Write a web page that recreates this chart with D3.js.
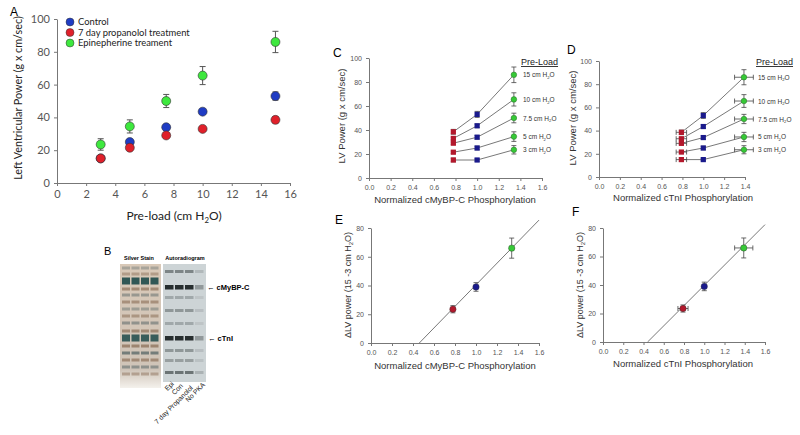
<!DOCTYPE html>
<html><head><meta charset="utf-8">
<script src="https://cdn.jsdelivr.net/npm/d3@7"></script>
<style>body{margin:0;background:#fff} svg{display:block}</style>
</head><body><svg id="c" width="800" height="435"></svg>
<script>
// ---------------- DATA ----------------
const preloads = [3, 5, 7.5, 10, 15];
const preloadLabels = ["3", "5", "7.5", "10", "15"];
const controlPower = [15, 25, 34, 43.5, 53];
const controlErr = [1, 1.5, 1.5, 1.5, 2.5];
const propPower = [15, 21.5, 29, 33, 38.5];
const propErr = [1.5, 1, 1, 1, 2];
const epiPower = [23.5, 34.5, 50, 65.5, 86];
const epiErr = [3.5, 4, 4, 5.5, 6.5];
const legendNames = ["Control", "7 day propanolol treatment", "Epinepherine treament"];

// order: control, propranolol, epinephrine
const mybpcPhos = [1.0, 0.78, 1.34];
const mybpcPhosErr = [0, 0.02, 0.02];
const tniPhos = [1.0, 0.79, 1.39];
const tniPhosErr = [0, 0.05, 0.09];
const deltaPower = [39, 23.5, 66];
const deltaErr = [3, 2.5, 7];
const fitMybpc = [0.46, 75];   // x-intercept, slope
const fitTni = [0.44, 71];

const xTicksA = [0, 2, 4, 6, 8, 10, 12, 14, 16];
const yTicksA = [0, 20, 40, 60, 80, 100];
const phosTicks = [0, 0.2, 0.4, 0.6, 0.8, 1.0, 1.2, 1.4, 1.6];
const phosTicksD = [0, 0.2, 0.4, 0.6, 0.8, 1.0, 1.2, 1.4];
const powerTicks = [0, 20, 40, 60, 80, 100];
const deltaTicks = [0, 20, 40, 60, 80];

const laneNames = ["Epi", "Con", "7 day Propanolol", "No PKA"];
const autoBands = [[272, 0.45], [287, 0.95], [298, 0.25], [311, 0.35], [324, 0.25], [338, 0.95], [351, 0.35], [361, 0.3], [373, 0.55]];
const laneStrength = [1, 1, 1, 0.35];
const silverBands = [[268, 0.35], [274, 0.4], [281, 0.9], [289, 0.55], [295, 0.45], [302, 0.5], [309, 0.4], [316, 0.45], [323, 0.5], [331, 0.55], [338, 0.85], [346, 0.6], [353, 0.7], [360, 0.55], [367, 0.5], [374, 0.4]];

// ---------------- DRAW ----------------
const svg = d3.select("#c");
const ARIAL = "Liberation Sans, Arial, sans-serif";
const CAL = "Lato, sans-serif";
const col = {
  A: ["#1f3cc4", "#e0202a", "#3ee83e"],
  C: ["#1a1a8c", "#b3182c", "#36c936"]
};

function axes(g, x, y, xt, yt, fs, fmtX, font, color, tick) {
  const ax = g.append("g").attr("transform", `translate(0,${y.range()[0]})`)
    .call(d3.axisBottom(x).tickValues(xt).tickFormat(fmtX).tickSize(tick).tickSizeOuter(0).tickPadding(4));
  const ay = g.append("g").attr("transform", `translate(${x.range()[0]},0)`)
    .call(d3.axisLeft(y).tickValues(yt).tickSize(tick).tickSizeOuter(0).tickPadding(4));
  [ax, ay].forEach(a => {
    a.select(".domain").attr("stroke", "#777").attr("stroke-width", 1);
    a.selectAll(".tick line").attr("stroke", "#777");
    a.selectAll("text").attr("font-size", fs).attr("font-family", font).attr("fill", color);
  });
  return [ax, ay];
}

function h2o(sel, pre, post, fs) {
  sel.append("tspan").text(pre + "H");
  sel.append("tspan").attr("font-size", fs * 0.65).attr("dy", fs * 0.25).text("2");
  sel.append("tspan").attr("dy", -fs * 0.25).text("O" + post);
}

// ===== Panel A =====
const gA = svg.append("g");
const xA = d3.scaleLinear([0, 16], [57, 290]);
const yA = d3.scaleLinear([0, 100], [183, 19]);
axes(gA, xA, yA, xTicksA, yTicksA, 11, d3.format("d"), CAL, "#555", 3);
gA.append("text").attr("x", 10).attr("y", 16).attr("font-family", ARIAL).attr("font-size", 12).text("A");
gA.append("text").attr("transform", "translate(22,98) rotate(-90)").attr("text-anchor", "middle")
  .attr("font-family", CAL).attr("font-size", 10.8).attr("fill", "#222").text("Left Ventricular Power (g x cm/sec)");
const tA = gA.append("text").attr("x", 174).attr("y", 220).attr("text-anchor", "middle")
  .attr("font-family", CAL).attr("font-size", 12).attr("fill", "#222");
h2o(tA, "Pre-load (cm ", ")", 12);

const seriesA = [[controlPower, controlErr], [propPower, propErr], [epiPower, epiErr]];
seriesA.forEach(([vals, errs], s) => {
  const g = gA.append("g");
  preloads.forEach((p, i) => {
    const cx = xA(p), lo = yA(vals[i] - errs[i]), hi = yA(vals[i] + errs[i]);
    g.append("line").attr("x1", cx).attr("x2", cx).attr("y1", lo).attr("y2", hi).attr("stroke", "#555");
    [lo, hi].forEach(yy => g.append("line").attr("x1", cx - 3).attr("x2", cx + 3).attr("y1", yy).attr("y2", yy).attr("stroke", "#555"));
    g.append("circle").attr("cx", cx).attr("cy", yA(vals[i])).attr("r", 4.5)
      .attr("fill", col.A[s]).attr("stroke", "#333").attr("stroke-width", 0.6);
  });
});
legendNames.forEach((n, i) => {
  gA.append("circle").attr("cx", 70).attr("cy", 22 + i * 10.5).attr("r", 4).attr("fill", col.A[i]).attr("stroke", "#333").attr("stroke-width", 0.5);
  gA.append("text").attr("x", 78).attr("y", 22 + i * 10.5).attr("dy", "0.35em").attr("font-family", CAL).attr("font-size", 9.4).attr("fill", "#222").text(n);
});

// ===== Panels C & D =====
function lvPanel(x, y, phos, phosErr, ticks, letter, lx, ly, ylx, ylabelY, xlabel, xlx, xly, legX, hErr) {
  const g = svg.append("g");
  axes(g, x, y, ticks, powerTicks, 7, d3.format(".1f"), ARIAL, "#555", 3);
  g.append("text").attr("x", lx).attr("y", ly).attr("font-family", ARIAL).attr("font-size", 12).text(letter);
  g.append("text").attr("transform", `translate(${ylx},${ylabelY}) rotate(-90)`).attr("text-anchor", "middle")
    .attr("font-family", ARIAL).attr("font-size", 9.5).attr("fill", "#333").text("LV Power (g x cm/sec)");
  g.append("text").attr("x", xlx).attr("y", xly).attr("text-anchor", "middle")
    .attr("font-family", ARIAL).attr("font-size", 9.5).attr("fill", "#333").text(xlabel);
  const series = [controlPower, propPower, epiPower];
  const errs = [controlErr, propErr, epiErr];
  preloads.forEach((p, i) => {
    const pts = [1, 0, 2].map(s => [x(phos[s]), y(series[s][i])]);
    g.append("path").attr("d", d3.line()(pts)).attr("fill", "none").attr("stroke", "#555").attr("stroke-width", 0.8);
  });
  [1, 0, 2].forEach(s => {
    preloads.forEach((p, i) => {
      const cx = x(phos[s]), cy = y(series[s][i]);
      const lo = y(series[s][i] - errs[s][i]), hi = y(series[s][i] + errs[s][i]);
      g.append("line").attr("x1", cx).attr("x2", cx).attr("y1", lo).attr("y2", hi).attr("stroke", "#444").attr("stroke-width", 0.8);
      [lo, hi].forEach(yy => g.append("line").attr("x1", cx - 2.5).attr("x2", cx + 2.5).attr("y1", yy).attr("y2", yy).attr("stroke", "#444").attr("stroke-width", 0.8));
      if (phosErr[s] > 0) {
        const l = x(phos[s] - phosErr[s]), r = x(phos[s] + phosErr[s]);
        g.append("line").attr("x1", l).attr("x2", r).attr("y1", cy).attr("y2", cy).attr("stroke", "#444").attr("stroke-width", 0.8);
        if (hErr) [l, r].forEach(xx => g.append("line").attr("x1", xx).attr("x2", xx).attr("y1", cy - 2.5).attr("y2", cy + 2.5).attr("stroke", "#444").attr("stroke-width", 0.8));
      }
      if (s === 2) g.append("circle").attr("cx", cx).attr("cy", cy).attr("r", 2.8).attr("fill", col.C[s]).attr("stroke", "#2a6e2a").attr("stroke-width", 0.5);
      else g.append("rect").attr("x", cx - 2.6).attr("y", cy - 2.6).attr("width", 5.2).attr("height", 5.2).attr("fill", col.C[s]);
    });
  });
  // Pre-load legend
  g.append("text").attr("x", legX).attr("y", 65).attr("font-family", ARIAL).attr("font-size", 9).attr("fill", "#222")
    .attr("text-decoration", "underline").text("Pre-Load");
  preloads.forEach((p, i) => {
    const t = g.append("text").attr("x", legX + 2).attr("y", y(epiPower[i]) + 2.5)
      .attr("font-family", ARIAL).attr("font-size", 6.5).attr("fill", "#333");
    h2o(t, preloadLabels[i] + " cm ", "", 6.5);
  });
}
lvPanel(d3.scaleLinear([0, 1.6], [369, 542]), d3.scaleLinear([0, 100], [178, 58]), mybpcPhos, mybpcPhosErr, phosTicks,
  "C", 333, 57, 345, 116, "Normalized cMyBP-C Phosphorylation", 455, 203, 521, false);
lvPanel(d3.scaleLinear([0, 1.4], [599, 745]), d3.scaleLinear([0, 100], [177, 61]), tniPhos, tniPhosErr, phosTicksD,
  "D", 567, 54, 576, 118, "Normalized cTnI Phosphorylation", 683, 201, 756, true);

// ===== Panels E & F =====
function deltaPanel(x, y, phos, phosErr, fit, letter, lx, ly, ylx, xlabel, xlx, xly, hErr) {
  const g = svg.append("g");
  axes(g, x, y, phosTicks, deltaTicks, 7, d3.format(".1f"), ARIAL, "#555", 3);
  g.append("text").attr("x", lx).attr("y", ly).attr("font-family", ARIAL).attr("font-size", 12).text(letter);
  const t = g.append("text").attr("transform", `translate(${ylx},285) rotate(-90)`).attr("text-anchor", "middle")
    .attr("font-family", ARIAL).attr("font-size", 9).attr("fill", "#333");
  t.append("tspan").text("\u0394LV power (15 -3 cm ");
  h2o(t, "", ")", 9);
  g.append("text").attr("x", xlx).attr("y", xly).attr("text-anchor", "middle")
    .attr("font-family", ARIAL).attr("font-size", 9.5).attr("fill", "#333").text(xlabel);
  const xEnd = 1.6;
  g.append("line").attr("x1", x(fit[0])).attr("y1", y(0)).attr("x2", x(xEnd)).attr("y2", y(fit[1] * (xEnd - fit[0])))
    .attr("stroke", "#555").attr("stroke-width", 0.8);
  [1, 0, 2].forEach(s => {
    const cx = x(phos[s]), cy = y(deltaPower[s]);
    const lo = y(deltaPower[s] - deltaErr[s]), hi = y(deltaPower[s] + deltaErr[s]);
    g.append("line").attr("x1", cx).attr("x2", cx).attr("y1", lo).attr("y2", hi).attr("stroke", "#444").attr("stroke-width", 0.8);
    [lo, hi].forEach(yy => g.append("line").attr("x1", cx - 2.5).attr("x2", cx + 2.5).attr("y1", yy).attr("y2", yy).attr("stroke", "#444").attr("stroke-width", 0.8));
    if (phosErr[s] > 0) {
      const l = x(phos[s] - phosErr[s]), r = x(phos[s] + phosErr[s]);
      g.append("line").attr("x1", l).attr("x2", r).attr("y1", cy).attr("y2", cy).attr("stroke", "#444").attr("stroke-width", 0.8);
      if (hErr) [l, r].forEach(xx => g.append("line").attr("x1", xx).attr("x2", xx).attr("y1", cy - 2.5).attr("y2", cy + 2.5).attr("stroke", "#444").attr("stroke-width", 0.8));
    }
    g.append("circle").attr("cx", cx).attr("cy", cy).attr("r", 3.2).attr("fill", col.C[s]).attr("stroke", "#333").attr("stroke-width", 0.4);
  });
}
deltaPanel(d3.scaleLinear([0, 1.6], [371, 539]), d3.scaleLinear([0, 80], [343, 228]), mybpcPhos, mybpcPhosErr, fitMybpc,
  "E", 335, 224, 351, "Normalized cMyBP-C Phosphorylation", 455, 369, false);
deltaPanel(d3.scaleLinear([0, 1.6], [603, 765]), d3.scaleLinear([0, 80], [342, 228]), tniPhos, tniPhosErr, fitTni,
  "F", 572, 216, 583, "Normalized cTnI Phosphorylation", 683, 367, true);

// ===== Panel B (gel) =====
const gB = svg.append("g");
gB.append("text").attr("x", 104).attr("y", 255).attr("font-family", ARIAL).attr("font-size", 11).text("B");
gB.append("text").attr("x", 139).attr("y", 260).attr("text-anchor", "middle").attr("font-family", ARIAL).attr("font-weight", "bold").attr("font-size", 5.5).text("Silver Stain");
gB.append("text").attr("x", 185).attr("y", 260).attr("text-anchor", "middle").attr("font-family", ARIAL).attr("font-weight", "bold").attr("font-size", 5.5).text("Autoradiogram");
const defs = svg.append("defs");
const gr = defs.append("linearGradient").attr("id", "fade").attr("x1", 0).attr("x2", 0).attr("y1", 0).attr("y2", 1);
gr.append("stop").attr("offset", "0").attr("stop-color", "#d9c9b8");
gr.append("stop").attr("offset", "0.85").attr("stop-color", "#cfc4b8");
gr.append("stop").attr("offset", "1").attr("stop-color", "#f4f1ec");
gB.append("rect").attr("x", 120).attr("y", 264).attr("width", 41).attr("height", 124).attr("fill", "url(#fade)");
const silverLanes = d3.range(4);
silverLanes.forEach(l => {
  const lx = 122 + l * 9.5;
  silverBands.forEach(([by, a], k) => {
    const teal = a > 0.8;
    gB.append("rect").attr("x", lx).attr("y", by - (teal ? 3.5 : 1.5)).attr("width", 8).attr("height", teal ? 7 : 3)
      .attr("fill", teal ? "#1f4a4a" : (k % 2 ? "#7a5a40" : "#4d5e60")).attr("opacity", a);
  });
});
gB.append("rect").attr("x", 163).attr("y", 264).attr("width", 43).attr("height", 118).attr("fill", "#cdd4d6");
laneStrength.forEach((st, l) => {
  const lx = 165 + l * 10;
  autoBands.forEach(([by, a]) => {
    gB.append("rect").attr("x", lx).attr("y", by - 2).attr("width", 8.5).attr("height", a > 0.9 ? 4.5 : 3)
      .attr("fill", "#1d2526").attr("opacity", a * st);
  });
});
gB.append("text").attr("x", 207).attr("y", 290).attr("font-family", ARIAL).attr("font-weight", "bold").attr("font-size", 7.5).text("\u2190 cMyBP-C");
gB.append("text").attr("x", 208).attr("y", 341).attr("font-family", ARIAL).attr("font-weight", "bold").attr("font-size", 7.5).text("\u2190 cTnI");
const laneAnchor = [[171, 381], [180, 383], [190, 385], [202, 382]];
laneNames.forEach((n, i) => {
  gB.append("text").attr("transform", `translate(${laneAnchor[i][0]},${laneAnchor[i][1]}) rotate(-45)`)
    .attr("text-anchor", "end").attr("dy", "0.7em").attr("font-family", ARIAL).attr("font-size", 6.8).attr("fill", "#222").text(n);
});
</script></body></html>
